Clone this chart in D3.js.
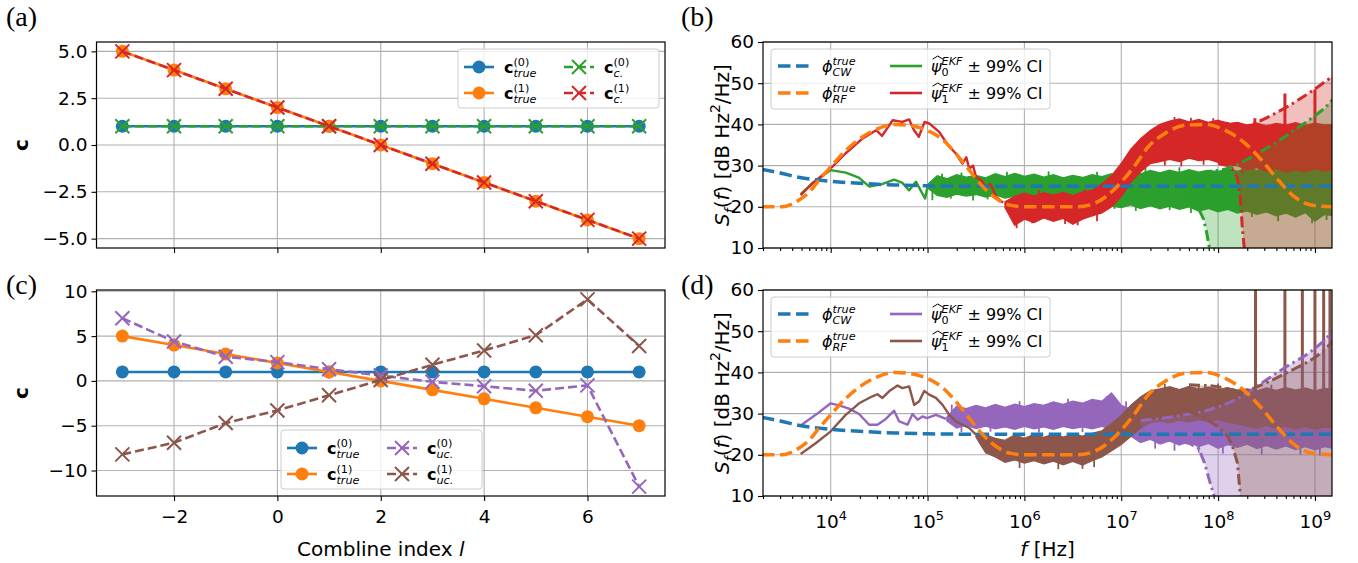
<!DOCTYPE html>
<html>
<head>
<meta charset="utf-8">
<script src="https://cdn.jsdelivr.net/npm/d3@7/dist/d3.min.js"></script>
<style>
  body { margin: 0; background: #fff; }
  svg text { font-family: "DejaVu Sans", sans-serif; }
</style>
</head>
<body>
<script>
// ---------- values ----------

// (a) and (c): combline coefficients
var comblineIdx = [-3, -2, -1, 0, 1, 2, 3, 4, 5, 6, 7];
var cTrue0 = [1, 1, 1, 1, 1, 1, 1, 1, 1, 1, 1];
var cTrue1 = [5, 4, 3, 2, 1, 0, -1, -2, -3, -4, -5];
var cCal0 = [1, 1, 1, 1, 1, 1, 1, 1, 1, 1, 1];
var cCal1 = [5, 4, 3, 2, 1, 0, -1, -2, -3, -4, -5];
var cUncal0 = [7.0, 4.4, 2.7, 2.1, 1.3, 0.6, -0.1, -0.6, -1.1, -0.5, -11.8];
var cUncal1 = [-8.2, -6.9, -4.7, -3.3, -1.6, 0.1, 1.8, 3.4, 5.1, 9.1, 3.9];
var combTicks = [-2, 0, 2, 4, 6];
var yTicksA = [-5, -2.5, 0, 2.5, 5];
var yTicksC = [-10, -5, 0, 5, 10];

// (b) and (d): spectra, frequency given as log10(f / Hz), level in dB
var freqRange = [2e3, 1.5e9];
var dbRange = [10, 60];
var dbTicks = [10, 20, 30, 40, 50, 60];
var decadeTicks = [1e4, 1e5, 1e6, 1e7, 1e8, 1e9];

var phiCwLogF = [3.29, 3.5, 3.64, 3.8, 4.0, 4.3, 4.67, 5.0, 5.5, 9.2];
var phiCwDb = [29.1, 28.1, 27.3, 26.7, 26.2, 25.7, 25.3, 25.1, 25.0, 25.0];

var phiRfLogF = [3.29, 3.5, 3.57, 3.67, 3.78, 3.88, 4.0, 4.16, 4.33, 4.47, 4.67, 4.85, 4.99, 5.16, 5.29, 5.43, 5.57, 5.71, 5.85, 6.0,
                 6.2, 6.55, 6.72, 6.86, 7.0, 7.14, 7.28, 7.45, 7.66, 7.86, 8.07, 8.28, 8.45, 8.62, 8.79, 8.97, 9.2];
var phiRfDb = [20, 20, 20.4, 21.6, 23.6, 26.5, 29.7, 33.8, 37, 38.8, 40, 39.6, 38.6, 36.2, 33, 28.9, 24.9, 22, 20.4, 20,
               20, 20, 20.8, 22.8, 26, 30, 34.6, 37.8, 39.8, 40, 38.6, 35.4, 31.3, 26.5, 22.4, 20.4, 20];

// smooth low-frequency part of the estimates
var psi0bHeadLogF = [3.69, 3.81, 4.0, 4.155, 4.29, 4.4, 4.53, 4.655, 4.74, 4.81, 4.88, 4.975, 5.0];
var psi0bHeadDb = [23.1, 25.7, 28.9, 28.3, 27.1, 24.9, 25.5, 26.6, 25.8, 24.0, 26.1, 22.0, 25.0];
var psi1bHeadLogF = [3.69, 3.81, 4.0, 4.155, 4.33, 4.47, 4.53, 4.64, 4.74, 4.81, 4.86, 4.91, 4.97, 5.02, 5.12, 5.21, 5.29, 5.36, 5.40, 5.43,
                     5.47, 5.5, 5.55, 5.6, 5.65, 5.71, 5.78];
var psi1bHeadDb = [22.8, 25.7, 29.3, 33.0, 36.6, 38.6, 37.2, 41.0, 40.6, 41.2, 38.6, 37.0, 40.6, 40.2, 38.2, 35.0, 33.0, 30.5, 32.0, 29.3,
                   30.0, 27.3, 26.5, 24.9, 25.5, 22.4, 21.0];
var psi0dHeadLogF = [3.69, 3.845, 4.0, 4.086, 4.19, 4.293, 4.397, 4.483, 4.569, 4.655, 4.707, 4.793, 4.845, 4.897, 4.948, 4.993, 5.086, 5.19];
var psi0dHeadDb = [27.1, 29.7, 32.5, 32.0, 31.2, 29.9, 27.3, 27.3, 28.7, 30.7, 28.1, 27.3, 29.9, 28.5, 29.3, 28.9, 29.7, 28.7];
var psi1dHeadLogF = [3.69, 3.845, 4.0, 4.155, 4.293, 4.431, 4.483, 4.534, 4.603, 4.69, 4.741, 4.81, 4.862, 4.914, 4.966, 5.017, 5.086, 5.155,
                     5.224, 5.293, 5.362, 5.431, 5.5];
var psi1dHeadDb = [20.2, 22.8, 25.7, 29.7, 32.5, 34.2, 34.7, 33.8, 35.4, 36.8, 36.2, 36.6, 32.1, 33.0, 35.5, 34.6, 33.8, 32.1,
                   29.7, 28.1, 27.3, 26.5, 24.9];

// noisy high-frequency part: lower / upper edge of the noise band on a 0.1-decade grid
var bandLogF = [5.0, 5.1, 5.2, 5.3, 5.4, 5.5, 5.6, 5.7, 5.8, 5.9, 6.0, 6.1, 6.2, 6.3, 6.4, 6.5, 6.6, 6.7, 6.8, 6.9, 7.0,
                7.1, 7.2, 7.3, 7.4, 7.5, 7.6, 7.7, 7.8, 7.9, 8.0, 8.1, 8.2, 8.3, 8.4, 8.5, 8.6, 8.7, 8.8, 8.9, 9.0, 9.1, 9.2];
var psi0bLo = [24.6, 22.8, 22.3, 23.1, 22.6, 23.0, 22.4, 22.9, 22.1, 22.6, 22.0, 21.5, 21.0, 21.4, 20.8, 21.2, 20.5, 21.0, 20.6, 20.2, 19.8,
               20.5, 19.6, 20.3, 19.5, 20.2, 19.4, 20.0, 19.0, 19.6, 18.8, 19.4, 18.5, 19.0, 18.2, 18.8, 17.8, 18.5, 17.5, 18.6, 16.5, 18.2, 17.8];
var psi0bHi = [25.4, 27.5, 26.8, 27.8, 27.2, 27.6, 27.0, 28.0, 27.3, 28.1, 27.4, 27.9, 27.2, 27.8, 27.0, 27.6, 27.1, 27.8, 27.3, 28.0, 27.5,
               28.6, 28.0, 28.8, 28.2, 28.9, 28.3, 29.0, 28.4, 28.8, 28.5, 29.2, 28.6, 29.4, 28.8, 29.5, 28.7, 29.3, 28.9, 29.6, 29.0, 29.5, 29.0];
var psi1bLo = [null, null, null, null, null, null, null, null,
               19.8, 15.5, 17.0, 16.2, 17.3, 16.5, 17.2, 15.8, 17.0, 17.8, 18.5, 20.0, 22.5, 26.0, 28.5, 30.5, 31.0, 31.5, 31.0,
               31.8, 31.2, 31.5, 30.8, 30.2, 30.0, 29.0, 29.5, 28.6, 29.2, 28.4, 29.0, 28.5, 29.3, 28.6, 29.0];
var psi1bHi = [null, null, null, null, null, null, null, null,
               21.2, 22.5, 23.3, 22.6, 23.4, 22.8, 23.5, 22.7, 23.6, 24.0, 25.5, 27.5, 30.5, 34.0, 36.5, 38.5, 40.0, 40.8, 41.3,
               40.6, 41.2, 40.5, 41.0, 40.2, 40.5, 39.8, 40.3, 39.6, 40.2, 39.8, 40.4, 39.7, 40.3, 39.8, 40.0];
var psi0dLo = [null, null,
               28.2, 26.5, 27.2, 26.4, 27.0, 26.3, 26.8, 26.2, 26.9, 26.3, 26.8, 26.2, 26.9, 26.4, 26.8, 26.3, 26.9, 26.2, 25.5,
               24.5, 23.0, 23.8, 22.6, 23.4, 22.4, 23.2, 22.0, 22.8, 21.6, 22.5, 21.8, 22.6, 21.5, 22.3, 21.4, 22.2, 21.3, 22.0, 21.2, 22.0, 21.5];
var psi0dHi = [null, null,
               29.2, 31.8, 31.2, 32.0, 31.4, 32.2, 31.5, 32.3, 31.7, 32.4, 32.0, 32.8, 32.2, 33.0, 32.5, 33.4, 33.0, 35.0, 32.0,
               31.0, 30.2, 31.0, 30.4, 31.2, 30.5, 31.0, 30.2, 30.8, 30.0, 30.5, 29.8, 30.4, 29.7, 30.2, 29.6, 30.3, 29.8, 30.5, 29.9, 30.4, 30.0];
var psi1dLo = [null, null, null, null, null,
               24.3, 20.5, 19.5, 18.2, 18.8, 18.0, 18.6, 17.8, 18.5, 17.6, 18.4, 17.5, 18.6, 19.5, 21.0, 22.5,
               24.5, 26.5, 27.8, 28.2, 27.8, 28.4, 28.0, 28.5, 28.1, 28.6, 28.0, 27.5, 27.0, 26.5, 27.2, 26.4, 27.0, 26.3, 26.9, 26.2, 26.8, 26.4];
var psi1dHi = [null, null, null, null, null,
               25.2, 24.8, 24.0, 23.5, 24.8, 24.0, 24.9, 24.2, 25.0, 24.3, 25.0, 24.5, 25.2, 25.8, 27.5, 29.5,
               32.0, 34.0, 35.5, 36.0, 36.5, 35.8, 36.6, 35.9, 36.4, 35.8, 36.3, 35.6, 36.0, 35.5, 36.2, 35.6, 36.3, 35.7, 36.2, 35.5, 36.1, 35.8];

// single noise excursions beyond the band edge: [log10 f, tip dB]
var psi0bFuzz = [[5.05, 21.6], [5.15, 28.0], [5.24, 22.0], [5.35, 28.3], [5.47, 21.5], [5.62, 21.8], [5.82, 28.5], [6.05, 20.5],
                 [6.25, 28.6], [6.45, 20.0], [6.75, 28.5], [6.93, 19.5], [7.15, 19.0], [7.25, 29.5], [7.5, 19.2], [7.6, 29.6],
                 [7.72, 18.5], [8.15, 29.8], [8.35, 17.5], [8.55, 30.0], [8.62, 16.5], [8.97, 16.0], [9.12, 16.8]];
var psi1bFuzz = [[5.92, 14.8], [6.08, 16.0], [6.15, 24.0], [6.42, 15.8], [6.55, 15.5], [6.62, 24.2], [6.75, 16.5],
                 [7.45, 30.0], [7.55, 41.8], [7.62, 29.8], [7.72, 41.6], [7.85, 30.2], [7.95, 41.5], [8.25, 28.0]];
var psi0dFuzz = [[5.25, 32.2], [5.35, 25.5], [5.65, 25.6], [5.95, 33.0], [6.15, 25.4], [6.45, 33.6], [6.6, 25.5], [6.85, 34.2],
                 [7.05, 33.0], [7.35, 21.5], [7.55, 21.0], [7.8, 20.5], [8.05, 20.3], [8.45, 20.0], [8.85, 20.0], [9.05, 19.8]];
var psi1dFuzz = [[5.95, 16.8], [6.35, 16.5], [6.6, 16.6], [6.72, 17.0], [7.45, 37.2], [7.8, 37.0], [8.0, 37.3], [8.55, 37.0]];

// isolated spikes of the estimates: [log10 f, top dB]
var psi1bSpikes = [[8.38, 41.5], [8.69, 47.5], [9.0, 48.5]];
var psi1dSpikes = [[8.386, 62], [8.69, 62], [8.87, 62], [9.0, 62], [9.09, 62], [9.155, 62]];

// 99% confidence bounds (0 means the bound has fallen far below the axis)
var ci0bLogF = [7.6, 7.7, 7.8, 7.85, 7.88, 7.91, 7.94, 8.0, 8.1, 8.2, 8.3, 8.4, 8.5, 8.6, 8.7, 8.8, 8.9, 9.0, 9.1, 9.2];
var ci0bLo = [21, 20.5, 19.5, 17.0, 14.0, 10.0, 0, 0, 0, 0, 0, 0, 0, 0, 0, 0, 0, 0, 0, 0];
var ci0bHi = [28, 28.1, 28.3, 28.4, 28.5, 28.6, 28.7, 28.8, 29.3, 30.3, 31.5, 32.8, 34.2, 35.6, 37.2, 38.8, 40.4, 42.1, 43.9, 46.5];
var ci1bLogF = [8.0, 8.1, 8.15, 8.2, 8.23, 8.25, 8.27, 8.3, 8.4, 8.5, 8.6, 8.7, 8.8, 8.9, 9.0, 9.1, 9.2];
var ci1bLo = [30.5, 30, 29, 27, 22, 15, 10, 0, 0, 0, 0, 0, 0, 0, 0, 0, 0];
var ci1bHi = [40.5, 40.2, 40.0, 39.8, 39.6, 39.5, 39.5, 39.5, 40.5, 41.6, 42.8, 44.1, 45.5, 47.0, 48.6, 50.3, 52.0];
var ci0dLogF = [7.2, 7.4, 7.6, 7.7, 7.8, 7.86, 7.92, 7.96, 8.0, 8.1, 8.2, 8.3, 8.4, 8.5, 8.6, 8.7, 8.8, 8.9, 9.0, 9.1, 9.2];
var ci0dLo = [24, 23.8, 23.2, 22.8, 21.5, 18, 13, 10, 0, 0, 0, 0, 0, 0, 0, 0, 0, 0, 0, 0, 0];
var ci0dHi = [28.3, 28.8, 29.5, 29.9, 30.3, 30.6, 31.0, 31.3, 31.6, 32.5, 33.6, 35.0, 36.6, 38.2, 39.8, 41.3, 42.7, 44.1, 45.8, 47.8, 50.5];
var ci1dLogF = [7.7, 7.8, 7.9, 8.0, 8.1, 8.15, 8.2, 8.23, 8.25, 8.3, 8.4, 8.5, 8.6, 8.7, 8.8, 8.9, 9.0, 9.1, 9.2];
var ci1dLo = [30.5, 29.5, 28.3, 26.8, 24.5, 22, 18, 10, 0, 0, 0, 0, 0, 0, 0, 0, 0, 0, 0];
var ci1dHi = [37, 36.9, 36.8, 36.5, 36.0, 35.8, 35.5, 35.5, 35.5, 35.5, 36.5, 37.5, 38.6, 39.8, 41.0, 42.2, 43.6, 45.5, 48.0];

// ---------- layout ----------
var W = 1358, H = 563;
var FS = 18.5, FS_LEG = 16, FS_LAB = 20;
var C = { blue: "#1f77b4", orange: "#ff7f0e", green: "#2ca02c", red: "#d62728", purple: "#9467bd", brown: "#8c564b" };

var boxes = {
    a: { l: 96.5, r: 665, t: 42, b: 248 },
    c: { l: 96.5, r: 665, t: 290, b: 496 },
    b: { l: 763, r: 1332, t: 42, b: 248 },
    d: { l: 763, r: 1332, t: 290, b: 496 }
};

var svg = d3.select("body").append("svg").attr("width", W).attr("height", H);
var defs = svg.append("defs");
Object.keys(boxes).forEach(function (k) {
    var b = boxes[k];
    defs.append("clipPath").attr("id", "clip-" + k).append("rect")
        .attr("x", b.l).attr("y", b.t).attr("width", b.r - b.l).attr("height", b.b - b.t);
});

// matplotlib-like 5% margins
var padded = function (vals) {
    var e = d3.extent(vals), p = (e[1] - e[0]) * 0.05;
    return [e[0] - p, e[1] + p];
};

var xComb = d3.scaleLinear().domain(padded(comblineIdx)).range([boxes.a.l, boxes.a.r]);
var yA = d3.scaleLinear().domain(padded(cTrue0.concat(cTrue1, cCal0, cCal1))).range([boxes.a.b, boxes.a.t]);
var yC = d3.scaleLinear().domain(padded(cTrue0.concat(cTrue1, cUncal0, cUncal1))).range([boxes.c.b, boxes.c.t]);
var xF = d3.scaleLog().domain(freqRange).range([boxes.b.l, boxes.b.r]);
var yB = d3.scaleLinear().domain(dbRange).range([boxes.b.b, boxes.b.t]);
var yD = d3.scaleLinear().domain(dbRange).range([boxes.d.b, boxes.d.t]);
var fx = function (lf) { return xF(Math.pow(10, lf)); };

/* text with super/subscripts, laid out piece by piece */
function richText(parent, x, y, fs, segs, anchor) {
    var g = parent.append("g");
    var cx = 0, lastX = 0;
    segs.forEach(function (s) {
        var small = s.pos === "sup" || s.pos === "sub";
        var size = small ? fs * 0.7 : fs;
        var dy = s.pos === "sup" ? -fs * 0.45 : (s.pos === "sub" ? fs * 0.28 : 0);
        var sx = s.stack ? lastX : cx + (s.gap || 0);
        var t = g.append("text").attr("x", sx).attr("y", dy).attr("font-size", size)
            .attr("fill", "#000").attr("text-anchor", "start")
            .attr("font-style", s.i ? "italic" : null)
            .attr("font-weight", s.b ? "bold" : null)
            .text(s.t);
        var w = t.node().getComputedTextLength();
        if (s.hat) {
            g.append("path")
                .attr("d", "M" + (sx + 1.5) + "," + (-fs * 0.8) + "L" + (sx + w / 2 + 1.5) + "," + (-fs * 1.0) + "L" + (sx + w + 1.5) + "," + (-fs * 0.8))
                .attr("fill", "none").attr("stroke", "#000").attr("stroke-width", 1);
        }
        if (!s.stack) lastX = sx;
        cx = Math.max(cx, sx + w);
    });
    var shift = anchor === "middle" ? -cx / 2 : (anchor === "end" ? -cx : 0);
    g.attr("transform", "translate(" + (x + shift) + "," + y + ")");
    return g;
}

var styleAxis = function (sel) {
    sel.attr("font-size", null).attr("font-family", null);
    sel.select(".domain").remove();
    sel.selectAll(".tick line").attr("stroke", "#000").attr("stroke-width", 1.1);
    sel.selectAll(".tick text").attr("font-size", FS).attr("fill", "#000");
};

function gridLines(g, box, xs, ys) {
    g.selectAll(null).data(xs).enter().append("line")
        .attr("x1", d => d).attr("x2", d => d).attr("y1", box.t).attr("y2", box.b)
        .attr("stroke", "#b0b0b0").attr("stroke-width", 1.1);
    g.selectAll(null).data(ys).enter().append("line")
        .attr("y1", d => d).attr("y2", d => d).attr("x1", box.l).attr("x2", box.r)
        .attr("stroke", "#b0b0b0").attr("stroke-width", 1.1);
}

function spine(g, box) {
    g.append("rect").attr("x", box.l).attr("y", box.t).attr("width", box.r - box.l).attr("height", box.b - box.t)
        .attr("fill", "none").attr("stroke", "#000").attr("stroke-width", 1.2);
}

function drawMarker(g, type, x, y, color) {
    if (type === "o") {
        g.append("circle").attr("cx", x).attr("cy", y).attr("r", 6.5).attr("fill", color);
    } else {
        g.append("path").attr("d", "M-7,-7L7,7M-7,7L7,-7")
            .attr("transform", "translate(" + x + "," + y + ")")
            .attr("stroke", color).attr("stroke-width", 2).attr("fill", "none");
    }
}

function comblineSeries(g, yScale, vals, color, dashed, marker) {
    var pts = comblineIdx.map((c, i) => [xComb(c), yScale(vals[i])]);
    g.append("path").attr("d", d3.line()(pts)).attr("fill", "none")
        .attr("stroke", color).attr("stroke-width", 2.6)
        .attr("stroke-dasharray", dashed ? "9,4" : null);
    pts.forEach(p => drawMarker(g, marker, p[0], p[1], color));
}

function drawLegend(g, box, rows, cols, items) {
    g.append("rect").attr("x", box.x).attr("y", box.y).attr("width", box.w).attr("height", box.h)
        .attr("rx", 3).attr("fill", "#fff").attr("fill-opacity", 0.8)
        .attr("stroke", "#cccccc").attr("stroke-width", 1);
    items.forEach(function (it, k) {
        var col = cols[Math.floor(k / 2)], y = box.y + rows[k % 2];
        var hx = box.x + col.h;
        g.append("line").attr("x1", hx).attr("x2", hx + col.len).attr("y1", y).attr("y2", y)
            .attr("stroke", it.color).attr("stroke-width", it.lw)
            .attr("stroke-dasharray", it.dash || null);
        if (it.marker) drawMarker(g, it.marker, hx + col.len / 2, y, it.color);
        richText(g, box.x + col.t, y + 6, FS_LEG, it.label, "start");
    });
}

var cLabel = function (sup, sub) {
    return [{ t: "c", b: 1 }, { t: sup, pos: "sup" }, { t: sub, pos: "sub", i: 1, stack: 1 }];
};
var phiLabel = function (sub) {
    return [{ t: "\u03d5", i: 1 }, { t: "true", pos: "sup", i: 1 }, { t: sub, pos: "sub", i: 1, stack: 1 }];
};
var psiLabel = function (sub) {
    return [{ t: "\u03c8", i: 1, hat: 1 }, { t: "EKF", pos: "sup", i: 1 }, { t: sub, pos: "sub", stack: 1 },
            { t: "\u00b1\u00a099%\u00a0CI", gap: 5 }];
};

function panelLetter(x, y, s) {
    svg.append("text").attr("x", x).attr("y", y).attr("font-size", 28)
        .style("font-family", "'Liberation Serif', serif").text(s);
}

// ---------- (a) ----------
var gA = svg.append("g");
gridLines(gA, boxes.a, combTicks.map(xComb), yTicksA.map(yA));
comblineSeries(gA, yA, cTrue0, C.blue, false, "o");
comblineSeries(gA, yA, cTrue1, C.orange, false, "o");
comblineSeries(gA, yA, cCal0, C.green, true, "x");
comblineSeries(gA, yA, cCal1, C.red, true, "x");
spine(gA, boxes.a);
gA.append("g").attr("transform", "translate(0," + boxes.a.b + ")")
    .call(d3.axisBottom(xComb).tickValues(combTicks).tickFormat("").tickSize(5).tickSizeOuter(0)).call(styleAxis);
gA.append("g").attr("transform", "translate(" + boxes.a.l + ",0)")
    .call(d3.axisLeft(yA).tickValues(yTicksA).tickFormat(d3.format(".1f")).tickSize(5).tickPadding(4).tickSizeOuter(0)).call(styleAxis);
drawLegend(gA, { x: 458, y: 49, w: 201, h: 59 }, [18, 44],
    [{ h: 6, len: 30, t: 46 }, { h: 106, len: 30, t: 146 }],
    [{ color: C.blue, lw: 2.6, marker: "o", label: cLabel("(0)", "true") },
     { color: C.orange, lw: 2.6, marker: "o", label: cLabel("(1)", "true") },
     { color: C.green, lw: 2.6, dash: "9,4", marker: "x", label: cLabel("(0)", "c.") },
     { color: C.red, lw: 2.6, dash: "9,4", marker: "x", label: cLabel("(1)", "c.") }]);
var yLabA = svg.append("g").attr("transform", "translate(28," + (boxes.a.t + boxes.a.b) / 2 + ") rotate(-90)");
richText(yLabA, 0, 0, FS_LAB, [{ t: "c", b: 1 }], "middle");

// ---------- (c) ----------
var gC = svg.append("g");
gridLines(gC, boxes.c, combTicks.map(xComb), yTicksC.map(yC));
comblineSeries(gC, yC, cTrue0, C.blue, false, "o");
comblineSeries(gC, yC, cTrue1, C.orange, false, "o");
comblineSeries(gC, yC, cUncal0, C.purple, true, "x");
comblineSeries(gC, yC, cUncal1, C.brown, true, "x");
spine(gC, boxes.c);
gC.append("g").attr("transform", "translate(0," + boxes.c.b + ")")
    .call(d3.axisBottom(xComb).tickValues(combTicks).tickFormat(d3.format("d")).tickSize(5).tickPadding(9).tickSizeOuter(0)).call(styleAxis);
gC.append("g").attr("transform", "translate(" + boxes.c.l + ",0)")
    .call(d3.axisLeft(yC).tickValues(yTicksC).tickFormat(d3.format("d")).tickSize(5).tickPadding(4).tickSizeOuter(0)).call(styleAxis);
drawLegend(gC, { x: 281, y: 430, w: 201, h: 59 }, [18, 44],
    [{ h: 6, len: 30, t: 46 }, { h: 106, len: 30, t: 146 }],
    [{ color: C.blue, lw: 2.6, marker: "o", label: cLabel("(0)", "true") },
     { color: C.orange, lw: 2.6, marker: "o", label: cLabel("(1)", "true") },
     { color: C.purple, lw: 2.6, dash: "9,4", marker: "x", label: cLabel("(0)", "uc.") },
     { color: C.brown, lw: 2.6, dash: "9,4", marker: "x", label: cLabel("(1)", "uc.") }]);
var yLabC = svg.append("g").attr("transform", "translate(28," + (boxes.c.t + boxes.c.b) / 2 + ") rotate(-90)");
richText(yLabC, 0, 0, FS_LAB, [{ t: "c", b: 1 }], "middle");
richText(svg, (boxes.c.l + boxes.c.r) / 2, 556, FS_LAB, [{ t: "Combline\u00a0index\u00a0" }, { t: "l", i: 1 }], "middle");

// ---------- (b), (d) ----------
function spectrumPanel(key, yScale, est, ci, legendColors, withLabels) {
    var box = boxes[key];
    var g = svg.append("g");
    gridLines(g, box, decadeTicks.map(xF), dbTicks.map(yScale));
    var data = g.append("g").attr("clip-path", "url(#clip-" + key + ")");
    var line = d3.line();
    var idx = d3.range(bandLogF.length);

    // estimated spectra: smooth head, noisy band, excursions, spikes
    est.forEach(function (e) {
        var head = e.headLogF.map((lf, i) => [fx(lf), yScale(e.headDb[i])]);
        data.append("path").attr("d", line(head)).attr("fill", "none")
            .attr("stroke", e.color).attr("stroke-width", 2.4).attr("stroke-linejoin", "round");
        var band = d3.area().defined(i => e.lo[i] != null)
            .x(i => fx(bandLogF[i])).y0(i => yScale(e.lo[i])).y1(i => yScale(e.hi[i]));
        data.append("path").attr("d", band(idx)).attr("fill", e.color)
            .attr("stroke", e.color).attr("stroke-width", 1.4);
        e.fuzz.forEach(function (s) {
            var k = bandLogF.indexOf(d3.least(bandLogF, v => Math.abs(v - s[0])));
            var mid = (e.lo[k] + e.hi[k]) / 2;
            data.append("line").attr("x1", fx(s[0])).attr("x2", fx(s[0]))
                .attr("y1", yScale(mid)).attr("y2", yScale(s[1]))
                .attr("stroke", e.color).attr("stroke-width", 1.8);
        });
        e.spikes.forEach(function (s) {
            data.append("line").attr("x1", fx(s[0])).attr("x2", fx(s[0]))
                .attr("y1", yScale(32)).attr("y2", yScale(s[1]))
                .attr("stroke", e.color).attr("stroke-width", 3);
        });
    });

    // confidence regions
    ci.forEach(function (c) {
        var a = d3.area().x((lf) => fx(lf)).y0((lf, i) => yScale(c.lo[i])).y1((lf, i) => yScale(c.hi[i]));
        data.append("path").attr("d", a(c.logF)).attr("fill", c.color).attr("fill-opacity", 0.3);
    });
    ci.forEach(function (c) {
        [c.lo, c.hi].forEach(function (v) {
            var pts = c.logF.map((lf, i) => [fx(lf), yScale(v[i])]);
            data.append("path").attr("d", line(pts)).attr("fill", "none")
                .attr("stroke", c.color).attr("stroke-width", 3).attr("stroke-dasharray", "11,4,2.5,4");
        });
    });

    // true spectra
    var smooth = d3.line().curve(d3.curveMonotoneX);
    [[phiCwLogF, phiCwDb, C.blue], [phiRfLogF, phiRfDb, C.orange]].forEach(function (p) {
        var pts = p[0].map((lf, i) => [fx(lf), yScale(p[1][i])]);
        data.append("path").attr("d", smooth(pts)).attr("fill", "none")
            .attr("stroke", p[2]).attr("stroke-width", 3.5).attr("stroke-dasharray", "12.5,5.5");
    });

    spine(g, box);
    var minor = xF.ticks().filter(v => decadeTicks.indexOf(v) < 0 && v >= freqRange[0] && v <= freqRange[1]);
    g.append("g").attr("transform", "translate(0," + box.b + ")")
        .call(d3.axisBottom(xF).tickValues(minor).tickFormat("").tickSize(3).tickSizeOuter(0)).call(styleAxis);
    var ax = g.append("g").attr("transform", "translate(0," + box.b + ")")
        .call(d3.axisBottom(xF).tickValues(decadeTicks).tickFormat("").tickSize(5).tickSizeOuter(0)).call(styleAxis);
    if (withLabels) {
        ax.selectAll(".tick").each(function (d) {
            richText(d3.select(this), 0, 32, FS, [{ t: "10" }, { t: String(Math.round(Math.log10(d))), pos: "sup" }], "middle");
        });
    }
    g.append("g").attr("transform", "translate(" + box.l + ",0)")
        .call(d3.axisLeft(yScale).tickValues(dbTicks).tickFormat(d3.format("d")).tickSize(5).tickPadding(4).tickSizeOuter(0)).call(styleAxis);

    drawLegend(g, { x: 771, y: box.t + 7, w: 279, h: 60 }, [17, 44],
        [{ h: 7, len: 32, t: 51 }, { h: 119, len: 32, t: 160 }],
        [{ color: C.blue, lw: 3.5, dash: "12.5,5.5", label: phiLabel("CW") },
         { color: C.orange, lw: 3.5, dash: "12.5,5.5", label: phiLabel("RF") },
         { color: legendColors[0], lw: 2.6, label: psiLabel("0") },
         { color: legendColors[1], lw: 2.6, label: psiLabel("1") }]);

    var yl = svg.append("g").attr("transform", "translate(729," + (box.t + box.b) / 2 + ") rotate(-90)");
    richText(yl, 0, 0, FS_LAB, [{ t: "S", i: 1 }, { t: "f", pos: "sub", i: 1 }, { t: "(" }, { t: "f", i: 1 },
        { t: ")\u00a0[dB\u00a0Hz" }, { t: "2", pos: "sup" }, { t: "/Hz]" }], "middle");
}

spectrumPanel("b", yB,
    [{ headLogF: psi0bHeadLogF, headDb: psi0bHeadDb, lo: psi0bLo, hi: psi0bHi, fuzz: psi0bFuzz, spikes: [], color: C.green },
     { headLogF: psi1bHeadLogF, headDb: psi1bHeadDb, lo: psi1bLo, hi: psi1bHi, fuzz: psi1bFuzz, spikes: psi1bSpikes, color: C.red }],
    [{ logF: ci0bLogF, lo: ci0bLo, hi: ci0bHi, color: C.green },
     { logF: ci1bLogF, lo: ci1bLo, hi: ci1bHi, color: C.red }],
    [C.green, C.red], false);

spectrumPanel("d", yD,
    [{ headLogF: psi0dHeadLogF, headDb: psi0dHeadDb, lo: psi0dLo, hi: psi0dHi, fuzz: psi0dFuzz, spikes: [], color: C.purple },
     { headLogF: psi1dHeadLogF, headDb: psi1dHeadDb, lo: psi1dLo, hi: psi1dHi, fuzz: psi1dFuzz, spikes: psi1dSpikes, color: C.brown }],
    [{ logF: ci0dLogF, lo: ci0dLo, hi: ci0dHi, color: C.purple },
     { logF: ci1dLogF, lo: ci1dLo, hi: ci1dHi, color: C.brown }],
    [C.purple, C.brown], true);

richText(svg, (boxes.d.l + boxes.d.r) / 2, 556, FS_LAB, [{ t: "f", i: 1 }, { t: "\u00a0[Hz]" }], "middle");

panelLetter(6, 26, "(a)");
panelLetter(681, 26, "(b)");
panelLetter(6, 294, "(c)");
panelLetter(681, 294, "(d)");
</script>
</body>
</html>
